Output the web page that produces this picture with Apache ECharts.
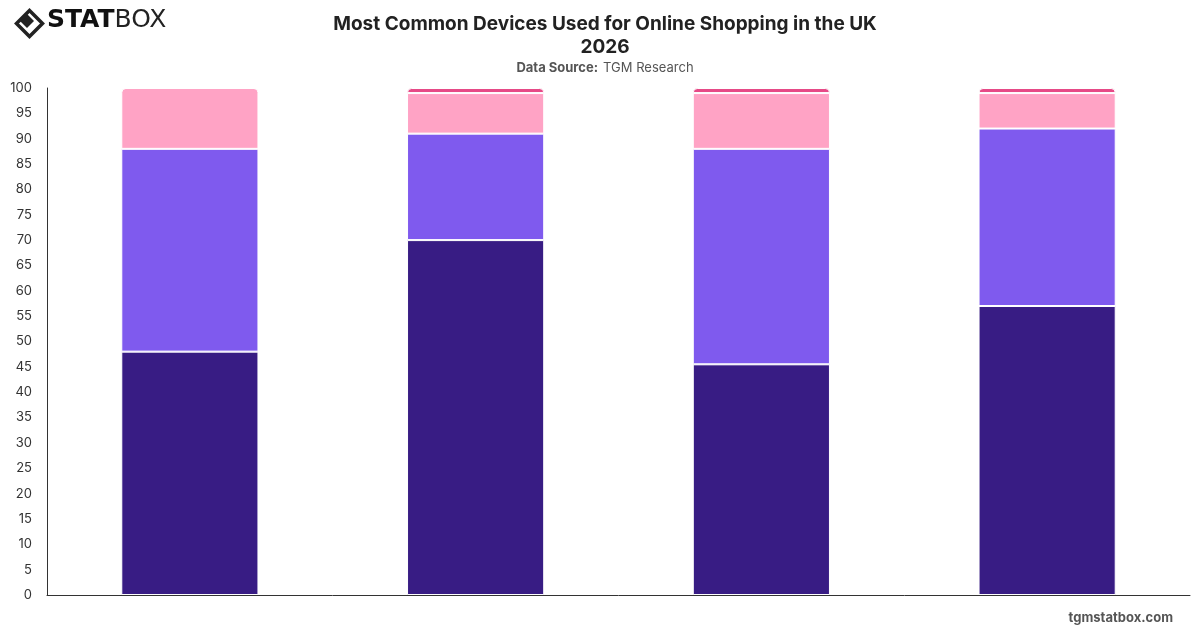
<!DOCTYPE html>
<html>
<head>
<meta charset="utf-8">
<script src="https://cdn.jsdelivr.net/npm/echarts@6/dist/echarts.min.js"></script>
<style>
  html, body { margin: 0; padding: 0; background: #fff; }
  #main { width: 1200px; height: 628px; }
</style>
</head>
<body>
<div id="main"></div>
<script>
// data
var categories = ['A', 'B', 'C', 'D'];
var seriesNames = ['Smartphone', 'Laptop / Desktop', 'Tablet', 'Other'];
var smartphone = [48, 70, 45.5, 57];
var laptop = [40, 21, 42.5, 35];
var tablet = [12, 8, 11, 7];
var other = [0, 1, 1, 1];
var yTicks = [0, 100, 5];
var colors = ['#381c84', '#7f5aee', '#ffa3c5', '#e64a87'];

var chart = echarts.init(document.getElementById('main'));

var stacks = [smartphone, laptop, tablet, other];

// round only the topmost non-zero segment of each bar
function makeData(idx) {
  return stacks[idx].map(function (v, i) {
    var top = -1;
    for (var k = 0; k < stacks.length; k++) {
      if (stacks[k][i] > 0) top = k;
    }
    return {
      value: v,
      itemStyle: { borderRadius: top === idx ? [4, 4, 0, 0] : 0 }
    };
  });
}

var series = seriesNames.map(function (name, idx) {
  return {
    name: name,
    type: 'bar',
    stack: 'total',
    barWidth: '48%',
    data: makeData(idx),
    itemStyle: { color: colors[idx], borderColor: '#fff', borderWidth: 1 }
  };
});

var option = {
  animation: false,
  backgroundColor: '#fff',
  title: [
    {
      text: 'Most Common Devices Used for Online Shopping in the UK\n2026',
      left: 600, top: 8, textAlign: 'center',
      textStyle: { fontFamily: 'Inter', fontSize: 19, fontWeight: 'bold', color: '#222', lineHeight: 23 }
    },
    {
      text: '{b|Data Source:} {n|TGM Research}',
      left: 600, top: 54, textAlign: 'center',
      textStyle: {
        fontWeight: 'normal',
        rich: {
          b: { fontFamily: 'Inter', fontSize: 13, fontWeight: 'bold', color: '#555' },
          n: { fontFamily: 'Inter', fontSize: 13, fontWeight: 'normal', color: '#555' }
        }
      }
    },
    {
      text: 'tgmstatbox.com',
      right: 22, top: 607,
      textStyle: { fontFamily: 'Inter', fontSize: 13, fontWeight: 'bold', color: '#555' }
    }
  ],
  graphic: [
    {
      type: 'polygon', left: 14, top: 8,
      shape: { points: [[13, 0], [26, 13], [13, 26], [0, 13]] },
      style: { fill: 'none', stroke: '#222', lineWidth: 3.5 }
    },
    {
      type: 'polygon', left: 20, top: 14,
      shape: { points: [[7, 0], [14, 7], [7, 14], [0, 7]] },
      style: { fill: '#222' }
    },
    {
      type: 'text', left: 47, top: 8,
      style: {
        text: '{a|STAT}{b|BOX}',
        rich: {
          a: { fontFamily: 'DejaVu Sans', fontSize: 25, fontWeight: 'bold', fill: '#111' },
          b: { fontFamily: 'DejaVu Sans', fontSize: 25, fontWeight: 'normal', fill: '#222' }
        }
      }
    }
  ],
  grid: { left: 47, right: 10, top: 88, bottom: 33 },
  xAxis: {
    type: 'category',
    data: categories,
    axisLine: { show: true, lineStyle: { color: '#333', width: 1 } },
    axisTick: { show: false },
    axisLabel: { show: false }
  },
  yAxis: {
    type: 'value',
    min: yTicks[0], max: yTicks[1], interval: yTicks[2],
    axisLine: { show: true, lineStyle: { color: '#333', width: 1 } },
    axisTick: { show: false },
    splitLine: { show: false },
    axisLabel: { fontFamily: 'Inter', fontSize: 13, color: '#333', margin: 15 }
  },
  series: series
};

chart.setOption(option);
</script>
</body>
</html>
